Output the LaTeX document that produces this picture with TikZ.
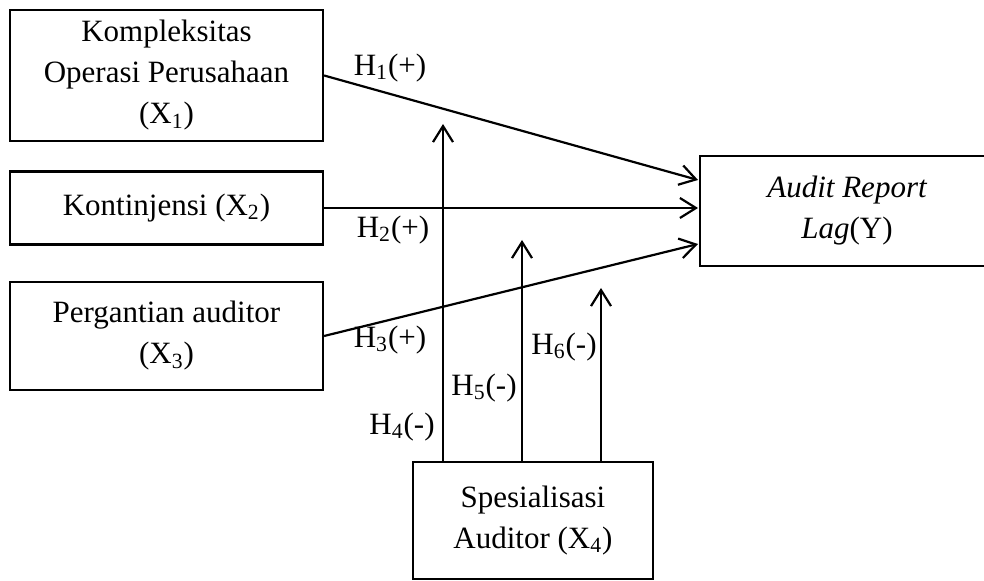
\documentclass[tikz,border=0pt]{standalone}
\usepackage{fontspec}
\setmainfont{Liberation Serif}
\usetikzlibrary{arrows.meta}
\tikzset{
  varbox/.style={draw, line width=1.1pt, align=center, inner sep=0pt},
  link/.style={line width=1.1pt, -{Straight Barb[length=8pt,width=10pt,line width=1.1pt]}}
}
\begin{document}
\begin{tikzpicture}[x=0.5pt,y=-0.5pt]
  \fontsize{15.5}{20.5}\selectfont
  \useasboundingbox (0,0) rectangle (984,581);
  \node[varbox, minimum width=156.5pt, minimum height=65.5pt] (x1) at (166.5,75.5) {Kompleksitas\\Operasi Perusahaan\\(X\textsubscript{1})};
  \node[varbox, minimum width=156.5pt, minimum height=36.5pt] (x2) at (166.5,208) {Kontinjensi (X\textsubscript{2})};
  \node[varbox, minimum width=156.5pt, minimum height=54pt] (x3) at (166.5,336) {Pergantian auditor\\(X\textsubscript{3})};
  \node[varbox, minimum width=147pt, minimum height=55pt] (y) at (847,211) {\itshape Audit Report\\\textit{Lag}\upshape(Y)};
  \node[varbox, minimum width=120pt, minimum height=58.5pt] (x4) at (533,520.5) {Spesialisasi\\Auditor (X\textsubscript{4})};
  % ujung panah
  \coordinate (y1) at (698,180);
  \coordinate (y2) at (698,208);
  \coordinate (y3) at (698,244);
  \coordinate (t4) at (443,124);
  \coordinate (t5) at (522,240);
  \coordinate (t6) at (601,288);
  \draw[link] (x1.east) -- (y1);
  \draw[link] (x2.east) -- (y2);
  \draw[link] (x3.east) -- (y3);
  \foreach \t in {t4,t5,t6} \draw[link] (\t |- x4.north) -- (\t);
  \node (h1) at (390,68) {H\textsubscript{1}(+)};
  \node (h2) at (393,230) {H\textsubscript{2}(+)};
  \node (h3) at (390,340) {H\textsubscript{3}(+)};
  \node (h4) at (402,427) {H\textsubscript{4}(-)};
  \node (h5) at (484,388) {H\textsubscript{5}(-)};
  \node (h6) at (564,347) {H\textsubscript{6}(-)};
\end{tikzpicture}
\end{document}
